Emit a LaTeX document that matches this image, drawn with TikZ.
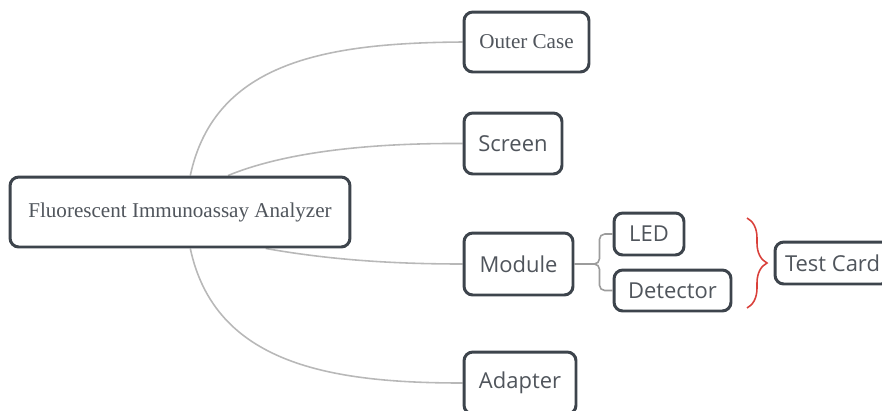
\documentclass[tikz,border=0pt]{standalone}
\usepackage{fontspec}
\setmainfont{Liberation Serif}
\newfontfamily\uifont{Open Sans}
\usepackage{tikz}
\usepackage{xcolor}
\usetikzlibrary{calc,backgrounds,decorations.pathreplacing}

\definecolor{boxline}{HTML}{3D444C}
\definecolor{boxtext}{HTML}{50555C}
\definecolor{linkgray}{HTML}{B8B8B8}
\definecolor{bracered}{HTML}{D9403A}

\tikzset{
  topic/.style={draw=boxline, line width=1.7pt, rounded corners=5pt, fill=white,
    text=boxtext, font=\fontsize{12}{14}\selectfont, inner sep=0pt},
  subtopic/.style={topic, font=\uifont\fontsize{12.5}{15}\selectfont},
  link/.style={draw=linkgray, line width=0.9pt},
}

\begin{document}
\begin{tikzpicture}[x=0.02cm, y=-0.02cm]
	\clip (0,0) rectangle (882,410);
	
	% Root
	\node[topic, minimum width=6.8cm, minimum height=1.4cm] (root) at (180,212) {Fluorescent Immunoassay Analyzer};
	
	% Main branches
	\node[topic, minimum width=2.5cm, minimum height=1.2cm] (outer) at (526.5,42) {Outer Case};
	\node[subtopic, minimum width=1.96cm, minimum height=1.22cm] (screen) at (513,143.5) {Screen};
	\node[subtopic, minimum width=2.18cm, minimum height=1.24cm] (module) at (518.5,264) {Module};
	\node[subtopic, minimum width=2.24cm, minimum height=1.24cm] (adapter) at (520,383) {Adapter};
	
	% Module parts
	\node[subtopic, minimum width=1.4cm, minimum height=0.84cm] (led) at (649,234) {LED};
	\node[subtopic, minimum width=2.34cm, minimum height=0.82cm] (detector) at (672.5,290.5) {Detector};
	\node[subtopic, minimum width=2.3cm, minimum height=0.84cm] (testcard) at (832.5,263) {Test Card};
	
	% Curved links from the root
	\begin{pgfonlayer}{background}
	\draw[link] ($(root.north west)!0.53!(root.north east)$) .. controls (215,60) and (330,43) .. (outer.west);
	\draw[link] ($(root.north west)!0.64!(root.north east)$) .. controls (290,150) and (380,143) .. (screen.west);
	\draw[link] ($(root.south west)!0.75!(root.south east)$) .. controls (320,258) and (380,264) .. (module.west);
	\draw[link] ($(root.south west)!0.53!(root.south east)$) .. controls (215,364) and (330,383) .. (adapter.west);
	\end{pgfonlayer}
	
	% Elbow links
	\draw[link, draw=linkgray!85!black, rounded corners=3pt] (module.east) -- ++(25,0) |- (led.west);
	\draw[link, draw=linkgray!85!black, rounded corners=3pt] (module.east) -- ++(25,0) |- (detector.west);
	
	% Brace
	\coordinate (bracetop) at (747,218);
	\coordinate (bracebot) at (747,308);
	\draw[bracered, line width=0.9pt, decorate, decoration={brace, amplitude=0.4cm}] (bracetop) -- (bracebot);
\end{tikzpicture}
\end{document}
